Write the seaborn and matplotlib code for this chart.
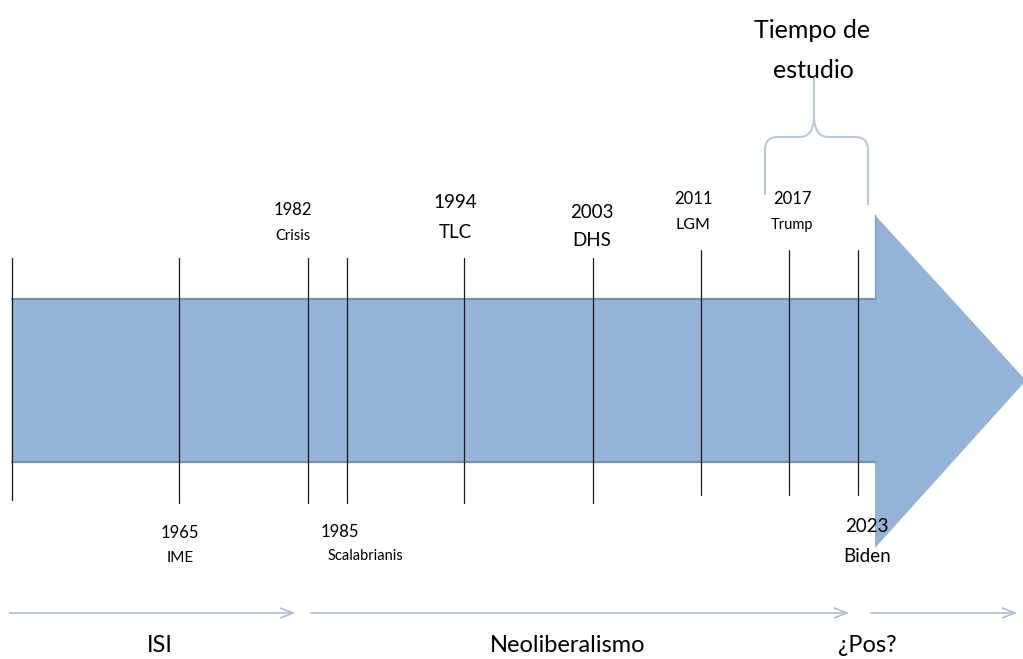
import numpy as np
import pandas as pd
import matplotlib.pyplot as plt
import seaborn as sns
from matplotlib.patches import Polygon, PathPatch
from matplotlib.path import Path

sns.set_style('white')
plt.rcParams['font.family'] = ['Lato', 'DejaVu Sans']

# event markers (x position in pixel space of the slide)
event_x = [12, 179, 308, 347, 464, 593, 701, 789, 858]
event_top = [258, 258, 258, 258, 258, 258, 250, 250, 250]
event_bot = [500, 503, 503, 503, 503, 503, 495, 495, 495]

# labels above the arrow
top_years = ['1982', '1994', '2003', '2011', '2017']
top_names = ['Crisis', 'TLC', 'DHS', 'LGM', 'Trump']
top_x = [293, 455, 592, 693, 792]
top_y = [210, 203, 212, 199, 199]
top_size = [12, 13.5, 13.5, 12, 12]
top_name_size = [10.5, 13.5, 13.5, 11.5, 10.5]
top_gap = [26, 29, 29, 26, 26]

# labels below the arrow
bot_years = ['1965', '1985', '2023']
bot_names = ['IME', 'Scalabrianis', 'Biden']
bot_x = [180, 340, 867]
bot_name_x = [180, 365, 867]
bot_y = [533, 532, 527]
bot_size = [12, 12, 13.5]
bot_name_size = [11, 10.5, 13.5]
bot_gap = [25, 24, 29]

# periods
periods = ['ISI', 'Neoliberalismo', '¿Pos?']
period_start = [7, 308, 868]
period_end = [298, 852, 1020]
period_label_x = [160, 568, 867]

fig, ax = plt.subplots(figsize=(10.23, 6.59), dpi=100)
fig.subplots_adjust(0, 0, 1, 1)
ax.set_xlim(0, 1023)
ax.set_ylim(659, 0)
ax.axis('off')

# big arrow
body_top, body_bot, body_left, head_x = 299, 462, 12, 875
head_top, head_bot, tip_x = 215, 548, 1026
tip_y = (body_top + body_bot) / 2
arrow = Polygon([(body_left, body_top), (head_x, body_top), (head_x, head_top),
                 (tip_x, tip_y), (head_x, head_bot), (head_x, body_bot),
                 (body_left, body_bot)], closed=True,
                facecolor='#95B3D7', edgecolor='none', zorder=1)
ax.add_patch(arrow)
# darker rims along the body
ax.plot([body_left, head_x + 1], [body_top, body_top], color='#7592B3', lw=1.6, zorder=2)
ax.plot([head_x, head_x], [body_top, head_top], color='#86A1BF', lw=1.0, zorder=2)
ax.plot([body_left, head_x], [body_bot, body_bot], color='#7592B3', lw=1.6, zorder=2)
ax.plot([body_left, body_left], [body_top, body_bot], color='#86A1BF', lw=1.0, zorder=2)

# event lines
rows = []
for i, (x, t, b) in enumerate(zip(event_x, event_top, event_bot)):
    rows.append({'x': x, 'y': t, 'ev': i})
    rows.append({'x': x, 'y': b, 'ev': i})
ev = pd.DataFrame(rows)
sns.lineplot(data=ev, x='x', y='y', units='ev', estimator=None, sort=False,
             color='#1a1a1a', lw=0.9, ax=ax, zorder=3)
ax.set_xlim(0, 1023)
ax.set_ylim(659, 0)
ax.set_xlabel('')
ax.set_ylabel('')

for yr, nm, x, y, s1, s2, g in zip(top_years, top_names, top_x, top_y,
                                   top_size, top_name_size, top_gap):
    ax.text(x, y, yr, ha='center', va='center', fontsize=s1, color='black')
    ax.text(x, y + g, nm, ha='center', va='center', fontsize=s2, color='black')

for yr, nm, x, xn, y, s1, s2, g in zip(bot_years, bot_names, bot_x, bot_name_x,
                                       bot_y, bot_size, bot_name_size, bot_gap):
    ax.text(x, y, yr, ha='center', va='center', fontsize=s1, color='black', zorder=4)
    ax.text(xn, y + g, nm, ha='center', va='center', fontsize=s2, color='black')

# brace for study period
bc = '#B9C8D8'
verts = [(765, 195), (765, 150), (765, 137), (778, 137),
         (800, 137), (812, 137), (814, 120), (814, 78)]
codes = [Path.MOVETO, Path.LINETO, Path.CURVE3, Path.CURVE3,
         Path.LINETO, Path.CURVE3, Path.CURVE3, Path.LINETO]
ax.add_patch(PathPatch(Path(verts, codes), fill=False, ec=bc, lw=1.5))
verts = [(868, 205), (868, 150), (868, 137), (855, 137),
         (828, 137), (816, 137), (814, 120)]
codes = [Path.MOVETO, Path.LINETO, Path.CURVE3, Path.CURVE3,
         Path.LINETO, Path.CURVE3, Path.CURVE3]
ax.add_patch(PathPatch(Path(verts, codes), fill=False, ec=bc, lw=1.5))
ax.text(812, 31, 'Tiempo de', ha='center', va='center', fontsize=18, color='black')
ax.text(813, 71, 'estudio', ha='center', va='center', fontsize=18, color='black')

# period arrows
for nm, s, e, lx in zip(periods, period_start, period_end, period_label_x):
    ax.annotate('', xy=(e, 613), xytext=(s, 613),
                arrowprops=dict(arrowstyle='->,head_length=0.9,head_width=0.35',
                                color='#A9BFD3', lw=1.2))
    ax.text(lx, 645, nm, ha='center', va='center', fontsize=17, color='black')

plt.savefig('out.png', dpi=100)
plt.close()
